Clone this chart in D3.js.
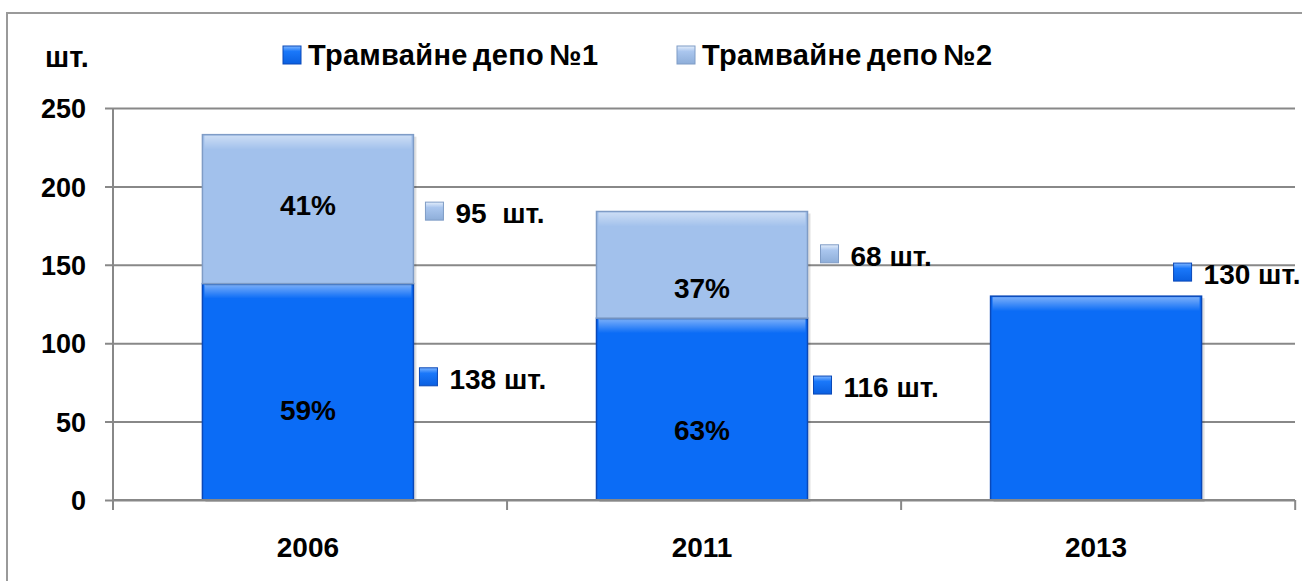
<!DOCTYPE html>
<html>
<head>
<meta charset="utf-8">
<script src="https://cdn.jsdelivr.net/npm/d3@7"></script>
<style>
  body { margin: 0; background: #fff; }
  text { font-family: "Liberation Sans", Arial, sans-serif; font-weight: bold; fill: #000; }
</style>
</head>
<body>
<div id="chart"></div>
<script>
// Data
const years = ["2006", "2011", "2013"];
const depo1 = [138, 116, 130];
const depo2 = [95, 68, 0];
const pct1 = ["59%", "63%", ""];
const pct2 = ["41%", "37%", ""];
const seriesNames = ["Трамвайне депо №1", "Трамвайне депо №2"];
const yTicks = [0, 50, 100, 150, 200, 250];

// Set dimensions
const width = 1302;
const height = 581;
const plot = { left: 113, right: 1295, top: 108, bottom: 500 };

const colors = ["#0b6cf6", "#a2c1ec"];
const edge = ["#0a48b8", "#7f9cc6"];

const svg = d3
  .select("#chart")
  .append("svg")
  .attr("width", width)
  .attr("height", height);

// gradients for the glossy look
const defs = svg.append("defs");
const grad = (id, top, mid, bot) => {
  const g = defs
    .append("linearGradient")
    .attr("id", id)
    .attr("x1", 0).attr("y1", 0).attr("x2", 0).attr("y2", 1);
  g.append("stop").attr("offset", "0%").attr("stop-color", top);
  g.append("stop").attr("offset", "30%").attr("stop-color", mid);
  g.append("stop").attr("offset", "100%").attr("stop-color", bot);
};
grad("m1", "#7fb6ff", "#1a78fa", "#0a5fe0");
grad("m2", "#e4eefb", "#aac6ee", "#8eaed9");

// soft top sheen inside bars
const sheen = defs
  .append("linearGradient")
  .attr("id", "sheen")
  .attr("x1", 0).attr("y1", 0).attr("x2", 0).attr("y2", 1);
sheen.append("stop").attr("offset", "0%").attr("stop-color", "#fff").attr("stop-opacity", 0.45);
sheen.append("stop").attr("offset", "100%").attr("stop-color", "#fff").attr("stop-opacity", 0);

// Outer frame
svg
  .append("rect")
  .attr("x", 7)
  .attr("y", 13)
  .attr("width", width + 20)
  .attr("height", height + 20)
  .attr("fill", "none")
  .attr("stroke", "#9a9a9a")
  .attr("stroke-width", 2);

// Scales
const x = d3
  .scaleBand()
  .domain(years)
  .range([plot.left - 2, plot.right - 2])
  .paddingInner(0.4645)
  .paddingOuter(0.232);

const y = d3.scaleLinear().domain([0, 250]).range([plot.bottom, plot.top]);

// Gridlines + y axis
svg
  .append("g")
  .attr("transform", `translate(${plot.left},0)`)
  .call(d3.axisLeft(y).tickValues(yTicks).tickSize(8))
  .call((g) => g.select(".domain").remove())
  .call((g) =>
    g
      .selectAll(".tick line")
      .attr("x1", -8)
      .attr("x2", plot.right - plot.left)
      .attr("stroke", "#888")
      .attr("stroke-width", 2)
  )
  .call((g) =>
    g
      .selectAll(".tick text")
      .attr("font-size", "27px")
      .attr("dy", "0.36em")
      .attr("x", -27)
  );

// vertical axis line
svg
  .append("line")
  .attr("x1", plot.left)
  .attr("x2", plot.left)
  .attr("y1", plot.top)
  .attr("y2", plot.bottom + 10)
  .attr("stroke", "#888")
  .attr("stroke-width", 2);

// Bars
const stacked = d3
  .stack()
  .keys([0, 1])(years.map((yr, i) => ({ year: yr, 0: depo1[i], 1: depo2[i] })));

const layer = svg
  .append("g")
  .selectAll("g")
  .data(stacked)
  .enter()
  .append("g");

const segs = (d) =>
  d.map((v) => ({ v, key: d.key })).filter((s) => s.v[1] - s.v[0] > 0);

// faint shadow on right side
layer
  .selectAll("rect.sh")
  .data(segs)
  .enter()
  .append("rect")
  .attr("class", "sh")
  .attr("x", (d) => x(d.v.data.year) + 3)
  .attr("y", (d) => y(d.v[1]) + 2)
  .attr("width", x.bandwidth())
  .attr("height", (d) => y(d.v[0]) - y(d.v[1]))
  .attr("fill", "#000")
  .attr("opacity", 0.12);

layer
  .selectAll("rect.bar")
  .data(segs)
  .enter()
  .append("rect")
  .attr("class", "bar")
  .attr("x", (d) => x(d.v.data.year))
  .attr("y", (d) => y(d.v[1]))
  .attr("width", x.bandwidth())
  .attr("height", (d) => y(d.v[0]) - y(d.v[1]))
  .attr("fill", (d) => colors[d.key])
  .attr("stroke", (d) => edge[d.key])
  .attr("stroke-width", 1.5);

layer
  .selectAll("rect.hl")
  .data(segs)
  .enter()
  .append("rect")
  .attr("class", "hl")
  .attr("x", (d) => x(d.v.data.year) + 2)
  .attr("y", (d) => y(d.v[1]) + 1)
  .attr("width", x.bandwidth() - 4)
  .attr("height", 14)
  .attr("fill", "url(#sheen)");

// x axis
svg
  .append("g")
  .attr("transform", `translate(0,${plot.bottom})`)
  .call((g) =>
    g
      .append("line")
      .attr("x1", plot.left)
      .attr("x2", plot.right)
      .attr("stroke", "#888")
      .attr("stroke-width", 2)
  )
  .call((g) =>
    g
      .selectAll("line.cat")
      .data(d3.range(years.length + 1))
      .enter()
      .append("line")
      .attr("class", "cat")
      .attr("x1", (i) => plot.left + i * x.step())
      .attr("x2", (i) => plot.left + i * x.step())
      .attr("y1", 0)
      .attr("y2", 10)
      .attr("stroke", "#888")
      .attr("stroke-width", 2)
  )
  .call((g) =>
    g
      .selectAll("text")
      .data(years)
      .enter()
      .append("text")
      .attr("x", (d) => x(d) + x.bandwidth() / 2)
      .attr("y", 57)
      .attr("text-anchor", "middle")
      .attr("font-size", "28px")
      .text((d) => d)
  );

// Percentages inside the bars (offsets in px from segment middle)
const pctShift = [[18, 21, 0], [-4, 23, 0]];
[pct1, pct2].forEach((arr, k) => {
  const vals = stacked[k];
  svg
    .append("g")
    .selectAll("text")
    .data(arr)
    .enter()
    .filter((d) => d !== "")
    .append("text")
    .attr("x", (d, i) => x(years[i]) + x.bandwidth() / 2)
    .attr("y", (d, i) => y((vals[i][0] + vals[i][1]) / 2) + pctShift[k][i])
    .attr("dy", "0.36em")
    .attr("text-anchor", "middle")
    .attr("font-size", "28px")
    .text((d) => d);
});

// Value labels with marker squares to the right of bars
const labelShift = [[-13, -22, -124], [4, -9, 0]];
const labelDx = [[-6, -6, -40], [0, 1, 0]];
const labelText = [
  depo1.map((v) => `${v} шт.`),
  depo2.map((v) => `${v}${v === 95 ? "\u00a0 " : " "}шт.`),
];
[depo1, depo2].forEach((arr, k) => {
  const vals = stacked[k];
  const g = svg.append("g");
  arr.forEach((v, i) => {
    if (!v) return;
    const cy = y((vals[i][0] + vals[i][1]) / 2) + labelShift[k][i];
    const lx = x(years[i]) + x.bandwidth() + 12 + labelDx[k][i];
    g.append("rect")
      .attr("x", lx)
      .attr("y", cy - 11)
      .attr("width", 18)
      .attr("height", 18)
      .attr("fill", `url(#m${k + 1})`)
      .attr("stroke", edge[k])
      .attr("stroke-width", 1);
    g.append("text")
      .attr("x", lx + 30)
      .attr("y", cy)
      .attr("dy", "0.36em")
      .attr("font-size", "28px")
      .text(labelText[k][i]);
  });
});

// Units label
svg
  .append("text")
  .attr("x", 45)
  .attr("y", 67)
  .attr("font-size", "29px")
  .text("шт.");

// Legend
const legendX = [283, 677];
const legend = svg
  .append("g")
  .selectAll("g")
  .data(seriesNames)
  .enter()
  .append("g")
  .attr("transform", (d, i) => `translate(${legendX[i]},46)`);
legend
  .append("rect")
  .attr("width", 18)
  .attr("height", 18)
  .attr("fill", (d, i) => `url(#m${i + 1})`)
  .attr("stroke", (d, i) => edge[i])
  .attr("stroke-width", 1);
legend
  .append("text")
  .attr("x", 25)
  .attr("y", 19)
  .attr("font-size", "29px")
  .attr("letter-spacing", "0.3px")
  .attr("word-spacing", "-3px")
  .text((d) => d);
</script>
</body>
</html>
